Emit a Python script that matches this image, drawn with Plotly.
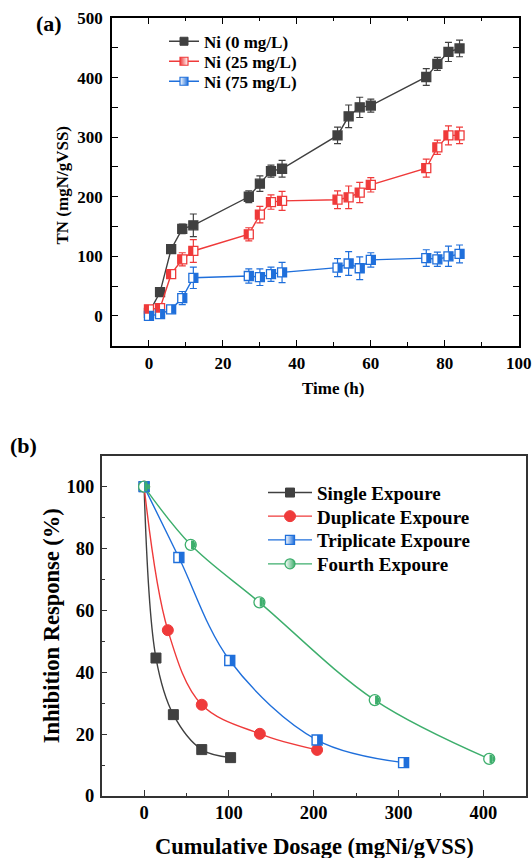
import plotly.graph_objects as go

# ---------------- data: panel (a) ----------------
time_h = [0, 3, 6, 9, 12, 27, 30, 33, 36, 51, 54, 57, 60, 75, 78, 81, 84]

tn_ni0 = [5, 40, 112, 146, 152, 200, 222, 243, 247, 303, 335, 350, 353, 401, 423, 443, 449]
tn_ni0_err = [3, 3, 5, 8, 19, 10, 13, 10, 14, 14, 19, 17, 11, 14, 11, 16, 14]

tn_ni25 = [11, 13, 70, 95, 109, 137, 170, 191, 193, 195, 199, 207, 220, 248, 283, 303, 303]
tn_ni25_err = [3, 3, 7, 11, 19, 11, 14, 12, 16, 15, 19, 17, 12, 15, 12, 16, 14]

tn_ni75 = [0, 3, 11, 30, 64, 67, 65, 70, 73, 81, 88, 80, 94, 97, 95, 100, 104]
tn_ni75_err = [2, 3, 4, 11, 18, 12, 14, 12, 17, 15, 20, 19, 12, 14, 12, 17, 15]

names_a = ["Ni (0 mg/L)", "Ni (25 mg/L)", "Ni (75 mg/L)"]

# ---------------- data: panel (b) ----------------
dose_single = [0, 14, 34.5, 68, 102]
inhib_single = [100, 44.6, 26.3, 15.0, 12.4]

dose_duplicate = [0, 28, 68, 136.5, 204]
inhib_duplicate = [100, 53.6, 29.5, 20.1, 14.9]

dose_triplicate = [0, 41, 101, 204, 306]
inhib_triplicate = [100, 77.1, 43.8, 18.1, 10.8]

dose_fourth = [0, 55, 136, 272, 407]
inhib_fourth = [100, 81.2, 62.6, 31.0, 12.0]

names_b = ["Single Expoure", "Duplicate Expoure", "Triplicate Expoure", "Fourth Expoure"]

# ---------------- styling ----------------
FONT = "Liberation Serif, Times New Roman, serif"
BLACK = "#404040"
RED = "#EF3A3A"
BLUE = "#1F6FDB"
GREEN = "#3DAE6C"
W, H = 532, 858

# pixel geometry of the two plotting areas
A_L, A_R, A_T, A_B = 112, 518.7, 18, 345.7
B_L, B_R, B_T, B_B = 101.7, 525.7, 455.7, 796

XA = [-10, 100]
YA = [-50, 500]
XB = [-50, 450]
YB = [0, 110]

# legend rows: left edge of the line sample and row centres (px)
LEG_A_X, LEG_A_ROWS = 164, [41.7, 61.7, 81.7]
LEG_B_X, LEG_B_ROWS = 263, [492.7, 516.3, 540, 564]


def px_to_units(px, rng, lo, hi):
    return px * (rng[1] - rng[0]) / (hi - lo)


fig = go.Figure()

# ---- panel (a): lines, markers and error bars ----
series_a = [
    (tn_ni0, tn_ni0_err, BLACK, "square", BLACK),
    (tn_ni25, tn_ni25_err, RED, "square", "white"),
    (tn_ni75, tn_ni75_err, BLUE, "square", "white"),
]
for (vals, errs, col, sym, fillc) in series_a:
    fig.add_trace(go.Scatter(
        x=time_h, y=vals, mode="lines+markers", xaxis="x", yaxis="y",
        line=dict(color=col, width=1.4),
        marker=dict(symbol=sym, size=9, color=fillc, line=dict(color=col, width=1.3)),
        error_y=dict(type="data", array=errs, visible=True, color=col, thickness=1.2, width=3.5),
        showlegend=False, hoverinfo="skip",
    ))

# half fills: a thick vertical bar drawn on a pixel-shifted overlay axis
sq_a = 9
half_shift_a = px_to_units(sq_a / 4, XA, A_L, A_R)
fig.add_trace(go.Scatter(
    x=time_h, y=tn_ni25, mode="markers", xaxis="x3", yaxis="y",
    marker=dict(symbol="line-ns", size=sq_a / 1.4, color=RED, line=dict(color=RED, width=sq_a / 2)),
    showlegend=False, hoverinfo="skip"))
fig.add_trace(go.Scatter(
    x=time_h, y=tn_ni75, mode="markers", xaxis="x4", yaxis="y",
    marker=dict(symbol="line-ns", size=sq_a / 1.4, color=BLUE, line=dict(color=BLUE, width=sq_a / 2)),
    showlegend=False, hoverinfo="skip"))

# legend entries (a), one small legend per row
legend_a = [
    (BLACK, dict(symbol="square", size=8, color=BLACK, line=dict(color=BLACK, width=1))),
    (RED, dict(symbol="square", size=8, color=RED, line=dict(color=RED, width=1.2),
               gradient=dict(type="horizontal", color="white"))),
    (BLUE, dict(symbol="square", size=8, color="white", line=dict(color=BLUE, width=1.2),
                gradient=dict(type="horizontal", color=BLUE))),
]
legend_ids_a = ["legend", "legend2", "legend3"]
for nm, (col, mk), lid in zip(names_a, legend_a, legend_ids_a):
    fig.add_trace(go.Scatter(x=[None], y=[None], mode="lines+markers", name=nm,
                             xaxis="x", yaxis="y", legend=lid,
                             line=dict(color=col, width=1.4), marker=mk))

# ---- panel (b): smoothed curves ----
series_b = [
    (dose_single, inhib_single, BLACK, dict(symbol="square", size=10, color=BLACK, line=dict(color=BLACK, width=1))),
    (dose_duplicate, inhib_duplicate, RED, dict(symbol="circle", size=11, color=RED, line=dict(color=RED, width=1))),
    (dose_triplicate, inhib_triplicate, BLUE, dict(symbol="square", size=10, color="white", line=dict(color=BLUE, width=1.4))),
    (dose_fourth, inhib_fourth, GREEN, dict(symbol="circle", size=11, color="white", line=dict(color=GREEN, width=1.3))),
]
for (xs, ys, col, mk) in series_b:
    fig.add_trace(go.Scatter(
        x=xs, y=ys, mode="lines+markers", xaxis="x2", yaxis="y2",
        line=dict(color=col, width=1.4, shape="spline", smoothing=1.0),
        marker=mk, showlegend=False, hoverinfo="skip"))

sq_b = 10
fig.add_trace(go.Scatter(
    x=dose_triplicate, y=inhib_triplicate, mode="markers", xaxis="x5", yaxis="y2",
    marker=dict(symbol="line-ns", size=sq_b / 1.4, color=BLUE, line=dict(color=BLUE, width=sq_b / 2)),
    showlegend=False, hoverinfo="skip"))
# right half of the circles: two bars of different height
fig.add_trace(go.Scatter(
    x=dose_fourth, y=inhib_fourth, mode="markers", xaxis="x6", yaxis="y2",
    marker=dict(symbol="line-ns", size=8.6 / 1.4, color=GREEN, line=dict(color=GREEN, width=3.1)),
    showlegend=False, hoverinfo="skip"))
fig.add_trace(go.Scatter(
    x=dose_fourth, y=inhib_fourth, mode="markers", xaxis="x7", yaxis="y2",
    marker=dict(symbol="line-ns", size=5.0 / 1.4, color=GREEN, line=dict(color=GREEN, width=1.8)),
    showlegend=False, hoverinfo="skip"))

legend_b = [
    (BLACK, dict(symbol="square", size=9, color=BLACK, line=dict(color=BLACK, width=1))),
    (RED, dict(symbol="circle", size=11, color=RED, line=dict(color=RED, width=1))),
    (BLUE, dict(symbol="square", size=9, color="white", line=dict(color=BLUE, width=1.3),
                gradient=dict(type="horizontal", color=BLUE))),
    (GREEN, dict(symbol="circle", size=10, color="white", line=dict(color=GREEN, width=1.3),
                 gradient=dict(type="horizontal", color=GREEN))),
]
legend_ids_b = ["legend4", "legend5", "legend6", "legend7"]
for nm, (col, mk), lid in zip(names_b, legend_b, legend_ids_b):
    fig.add_trace(go.Scatter(x=[None], y=[None], mode="lines+markers", name=nm,
                             xaxis="x2", yaxis="y2", legend=lid,
                             line=dict(color=col, width=1.4), marker=mk))

# ---------------- axes ----------------
tickfont_a = dict(family=FONT, size=17, color="black", weight="bold")
tickfont_b = dict(family=FONT, size=18.5, color="black", weight="bold")

dom_xa = [A_L / W, A_R / W]
dom_ya = [1 - A_B / H, 1 - A_T / H]
dom_xb = [B_L / W, B_R / W]
dom_yb = [1 - B_B / H, 1 - B_T / H]

axis_a = dict(showgrid=False, zeroline=False, showline=True, linecolor="black", linewidth=1.6,
              mirror="allticks", ticks="inside", ticklen=6, tickwidth=1.4, tickcolor="black",
              tickfont=tickfont_a, automargin=False,
              minor=dict(ticks="inside", ticklen=3.5, tickwidth=1.2, tickcolor="black", showgrid=False))
axis_b = dict(showgrid=False, zeroline=False, showline=True, linecolor="#333333", linewidth=1.5,
              mirror=True, ticks="inside", ticklen=6, tickwidth=1.3, tickcolor="#333333",
              tickfont=tickfont_b, automargin=False,
              minor=dict(ticks="inside", ticklen=3.5, tickwidth=1.2, tickcolor="#333333", showgrid=False))


def shifted(rng, d):
    return [rng[0] - d, rng[1] - d]


hidden = dict(visible=False, automargin=False)
hb = px_to_units(sq_b / 4, XB, B_L, B_R)
layout_axes = dict(
    xaxis=dict(domain=dom_xa, anchor="y", range=XA, dtick=20, tick0=0,
               minor_dtick=10, ticklabelstandoff=1, **axis_a),
    yaxis=dict(domain=dom_ya, anchor="x", range=YA, dtick=100, tick0=0,
               minor_dtick=50, ticklabelstandoff=4, **axis_a),
    xaxis3=dict(domain=dom_xa, anchor="y", overlaying="x", range=shifted(XA, -half_shift_a), **hidden),
    xaxis4=dict(domain=dom_xa, anchor="y", overlaying="x", range=shifted(XA, half_shift_a), **hidden),
    xaxis2=dict(domain=dom_xb, anchor="y2", range=XB, dtick=100, tick0=0,
                minor_dtick=50, ticklabelstandoff=-1, **axis_b),
    yaxis2=dict(domain=dom_yb, anchor="x2", range=YB, dtick=20, tick0=0,
                minor_dtick=10, ticklabelstandoff=2, **axis_b),
    xaxis5=dict(domain=dom_xb, anchor="y2", overlaying="x2", range=shifted(XB, hb), **hidden),
    xaxis6=dict(domain=dom_xb, anchor="y2", overlaying="x2",
                range=shifted(XB, px_to_units(1.85, XB, B_L, B_R)), **hidden),
    xaxis7=dict(domain=dom_xb, anchor="y2", overlaying="x2",
                range=shifted(XB, px_to_units(4.1, XB, B_L, B_R)), **hidden),
)


def label(text, xpx, ypx, size, angle=0):
    return dict(text=text, x=xpx / W, y=1 - ypx / H, xref="paper", yref="paper",
                xanchor="center", yanchor="middle", showarrow=False, textangle=angle,
                font=dict(family=FONT, size=size, color="black", weight="bold"))


annotations = [
    label("(a)", 48.8, 23, 22),
    label("(b)", 23.7, 445.7, 22),
    label("Time (h)", 333.8, 388, 17),
    label("TN (mgN/gVSS)", 62, 185.5, 17, -90),
    label("Cumulative Dosage (mgNi/gVSS)", 314, 846.7, 22.5),
    label("Inhibition Response (%)", 51.7, 625.5, 22.5, -90),
]


def row_legend(xpx, ypx, size):
    return dict(x=xpx / W, y=1 - ypx / H, xanchor="left", yanchor="middle",
                bgcolor="rgba(0,0,0,0)", borderwidth=0, tracegroupgap=0,
                font=dict(family=FONT, size=size, color="black", weight="bold"))


legends = {}
for lid, ypx in zip(legend_ids_a, LEG_A_ROWS):
    legends[lid] = row_legend(LEG_A_X, ypx, 17)
for lid, ypx in zip(legend_ids_b, LEG_B_ROWS):
    legends[lid] = dict(row_legend(LEG_B_X, ypx, 19), itemwidth=44)

fig.update_layout(
    width=W, height=H, margin=dict(l=0, r=0, t=0, b=0),
    paper_bgcolor="white", plot_bgcolor="white",
    font=dict(family=FONT, color="black"),
    annotations=annotations,
    **legends,
    **layout_axes,
)

fig.write_html("out.html")
